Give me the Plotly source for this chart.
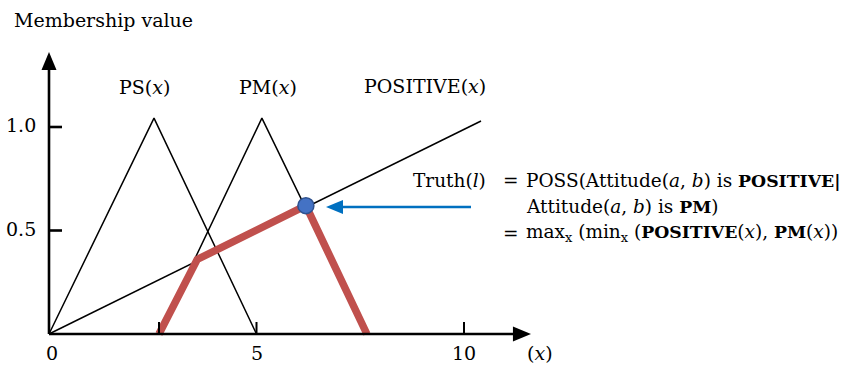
import plotly.graph_objects as go

# ---- data ----
ps_x = [0.0, 2.53, 5.0]
ps_y = [0.0, 1.043, 0.0]
pm_x = [2.65, 5.13, 7.66]
pm_y = [0.0, 1.043, 0.0]
positive_x = [0.0, 10.41]
positive_y = [0.0, 1.029]
truth_x = [2.65, 3.57, 6.19, 7.66]
truth_y = [0.0, 0.36, 0.62, 0.0]
point_x = [6.19]
point_y = [0.62]
x_ticks = [2.65, 5.0, 10.0]
x_tick_labels = ["0", "5", "10"]
x_tick_label_pos = [0.0, 5.0, 10.0]
y_ticks = [0.5, 1.0]
y_tick_labels = ["0.5", "1.0"]

# ---- pixel geometry of the frame ----
W, H = 843, 365
X0_PX, PX_PER_X = 49.0, 41.5
Y0_PX, PX_PER_Y = 334.0, 207.0


def px2x(px):
    return (px - X0_PX) / PX_PER_X


def px2y(py):
    return (Y0_PX - py) / PX_PER_Y


FONT = "DejaVu Serif"
BLACK = "#000000"

fig = go.Figure()

thin = dict(color=BLACK, width=1.5)
fig.add_trace(go.Scatter(x=ps_x, y=ps_y, mode="lines", line=thin, hoverinfo="skip"))
fig.add_trace(go.Scatter(x=pm_x, y=pm_y, mode="lines", line=thin, hoverinfo="skip"))
fig.add_trace(go.Scatter(x=positive_x, y=positive_y, mode="lines", line=thin, hoverinfo="skip"))

# axes
ax_w = 2.6
x_end = px2x(515)
x_tip = px2x(531)
y_end = px2y(68)
y_tip = px2y(52)
hw_x = 7.5 / PX_PER_X
hw_y = 7.5 / PX_PER_Y
shapes = [
    dict(type="line", x0=0, y0=0, x1=x_end, y1=0, line=dict(color=BLACK, width=ax_w)),
    dict(type="line", x0=0, y0=0, x1=0, y1=y_end, line=dict(color=BLACK, width=ax_w)),
    dict(type="path", path=f"M {x_end - 0.05} {-hw_y} L {x_tip} 0 L {x_end - 0.05} {hw_y} Z",
         fillcolor=BLACK, line=dict(color=BLACK, width=0)),
    dict(type="path", path=f"M {-hw_x} {y_end - 0.01} L 0 {y_tip} L {hw_x} {y_end - 0.01} Z",
         fillcolor=BLACK, line=dict(color=BLACK, width=0)),
]
for xv in x_ticks:
    shapes.append(dict(type="line", x0=xv, x1=xv, y0=0, y1=12 / PX_PER_Y,
                       line=dict(color=BLACK, width=2)))
for yv in y_ticks:
    shapes.append(dict(type="line", x0=0, x1=13 / PX_PER_X, y0=yv, y1=yv,
                       line=dict(color=BLACK, width=ax_w)))

# truth path (red)
fig.add_trace(go.Scatter(x=truth_x, y=truth_y, mode="lines",
                         line=dict(color="#C0504D", width=7.5), hoverinfo="skip"))
# blue arrow
arrow_y = px2y(207)
shapes.append(dict(type="line", x0=px2x(340), x1=px2x(471), y0=arrow_y, y1=arrow_y,
                   line=dict(color="#0070C0", width=2.5)))
shapes.append(dict(type="path",
                   path=f"M {px2x(343)} {arrow_y - 7 / PX_PER_Y} L {px2x(326)} {arrow_y} "
                        f"L {px2x(343)} {arrow_y + 7 / PX_PER_Y} Z",
                   fillcolor="#0070C0", line=dict(color="#0070C0", width=0)))

fig.add_trace(go.Scatter(x=point_x, y=point_y, mode="markers",
                         marker=dict(size=16, color="#4472C4",
                                     line=dict(color="#2F528F", width=1.5)),
                         hoverinfo="skip"))

ann = []


def text(x_px, y_px, s, anchor="center", size=19):
    ann.append(dict(x=px2x(x_px), y=px2y(y_px), text=s, showarrow=False,
                    xanchor=anchor, yanchor="middle",
                    font=dict(family=FONT, size=size, color=BLACK)))


def bold(s, size=17.3):
    return f'<span style="font-size:{size}px"><b>{s}</b></span>'


text(12, 20, "Membership value", "left")
text(144, 87, "PS(<i>x</i>)")
text(268, 87, "PM(<i>x</i>)")
text(425, 86, "POSITIVE(<i>x</i>)")
for xv, lab in zip(x_tick_label_pos, x_tick_labels):
    text(X0_PX + xv * PX_PER_X + (3 if lab == "0" else 0), 353, lab)
text(540, 353, "(<i>x</i>)")
for yv, lab in zip(y_ticks, y_tick_labels):
    text(38, Y0_PX - yv * PX_PER_Y - 2, lab, "right")

fs = 18.5
text(411, 180, "Truth(<i>l</i>)", "left", fs)
text(501, 180, "=", "left", fs)
text(524, 180, "POSS(Attitude(<i>a</i>, <i>b</i>) is " + bold("POSITIVE|"), "left", fs)
text(524, 206, "Attitude(<i>a</i>, <i>b</i>) is " + bold("PM") + ")", "left", fs)
text(501, 233, "=", "left", fs)
text(524, 233, "max<sub>x</sub> (min<sub>x</sub> (" + bold("POSITIVE") + "(<i>x</i>), "
     + bold("PM") + "(<i>x</i>))", "left", fs)

fig.update_layout(
    width=W, height=H,
    margin=dict(l=0, r=0, t=0, b=0),
    paper_bgcolor="white", plot_bgcolor="white",
    showlegend=False,
    shapes=shapes,
    annotations=ann,
    xaxis=dict(range=[px2x(0), px2x(W)], visible=False, fixedrange=True),
    yaxis=dict(range=[px2y(H), px2y(0)], visible=False, fixedrange=True),
)

fig.write_html("out.html")
